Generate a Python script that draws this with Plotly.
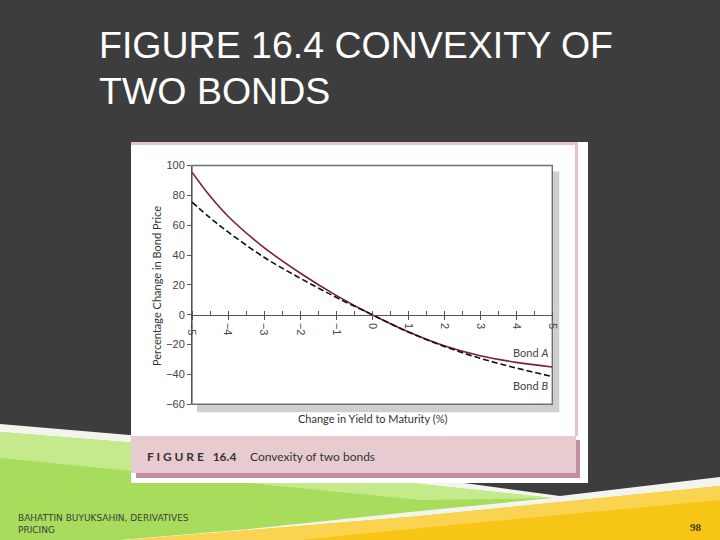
import plotly.graph_objects as go

# ---------------- data ----------------
yield_change = [-5, -4.5, -4, -3, -2, -1, 0, 1, 2, 3, 4, 5]
bond_a = [95.5, 79.5, 66.0, 45.0, 28.0, 13.0, 0.0, -11.4, -20.8, -27.5, -31.9, -35.0]
bond_b = [75.5, 65.0, 55.5, 38.5, 24.5, 11.7, 0.0, -11.5, -21.2, -29.2, -35.7, -41.4]
x_ticks = [-5, -4, -3, -2, -1, 0, 1, 2, 3, 4, 5]
y_ticks = [-60, -40, -20, 0, 20, 40, 60, 80, 100]
y_range = [-60, 100]
x_range = [-5, 5]

W, H = 720, 540


def px(x):
    return x / W


def py(y):
    return 1 - y / H


# plot-area pixel box
L, R, T, B = 192, 552.3, 165.5, 404.3
ydom = [py(B), py(T)]
x_axis_pos = ydom[0] + (0 - y_range[0]) / (y_range[1] - y_range[0]) * (ydom[1] - ydom[0])

fig = go.Figure()
fig.add_trace(go.Scatter(x=yield_change, y=bond_a, mode="lines", line_shape="spline",
                         line=dict(color="#7a2232", width=1.6, smoothing=1.0), name="Bond A",
                         xaxis="x", yaxis="y"))
fig.add_trace(go.Scatter(x=yield_change, y=bond_b, mode="lines", line_shape="spline",
                         line=dict(color="#111111", width=1.6, dash="6px,3px", smoothing=1.0),
                         name="Bond B", xaxis="x", yaxis="y"))

shapes = []


def rect(x0, y0, x1, y1, color, line=None):
    d = dict(type="rect", xref="paper", yref="paper", x0=px(x0), x1=px(x1),
             y0=py(y1), y1=py(y0), fillcolor=color, layer="below",
             line=dict(width=0) if line is None else line)
    shapes.append(d)


def poly(points, color):
    path = "M " + " L ".join(f"{px(a):.5f},{py(b):.5f}" for a, b in points) + " Z"
    shapes.append(dict(type="path", xref="paper", yref="paper", path=path,
                       fillcolor=color, line=dict(width=0), layer="below"))


# bottom decorations of the slide
poly([(0, 424), (200, 441), (420, 477), (560, 496), (720, 477), (720, 540), (0, 540)], "#f4f4ee")
poly([(0, 432), (200, 448), (420, 484), (552, 498), (420, 511), (250, 529), (120, 540), (0, 540)], "#a8dc5c")
poly([(0, 432), (200, 448), (420, 484), (552, 498), (420, 500), (200, 478), (0, 458)], "#c4ea8c")
poly([(128, 540), (420, 516), (720, 486), (720, 540)], "#f7c515")
poly([(128, 540), (420, 516), (720, 486), (720, 500), (420, 528), (300, 540)], "#fad451")

# chart image panel
rect(131, 142, 588, 483, "#ffffff")
rect(131, 142, 578, 145, "#e6c3ca")
rect(575, 142, 578, 436, "#e6c3ca")
# caption band with shadow
rect(136, 440, 580, 478, "#c48f9c")
rect(131, 436, 576, 473, "#e8cbd1")
# plot frame shadow
rect(L + 5, T + 6, R + 7, B + 8, "#cfcfcf")
rect(L, T, R, B, "#ffffff")
rect(L, T, R, B, "rgba(0,0,0,0)", line=dict(color="#707070", width=1.4))

ann = []


def text(x, y, s, size, color, family, xanchor="left", yanchor="middle", angle=0, xref="paper", yref="paper"):
    ann.append(dict(x=px(x) if xref == "paper" else x, y=py(y) if yref == "paper" else y,
                    xref=xref, yref=yref, text=s, showarrow=False,
                    xanchor=xanchor, yanchor=yanchor, textangle=angle,
                    font=dict(size=size, color=color, family=family)))


# slide title
text(97, 45, "FIGURE 16.4 CONVEXITY OF", 37.5, "#ffffff", "Liberation Sans")
text(97, 91, "TWO BONDS", 37.5, "#ffffff", "Liberation Sans")
# footer
text(16, 518, "BAHATTIN BUYUKSAHIN, DERIVATIVES", 9, "#3c3c3c", "DejaVu Sans")
text(16, 530, "PRICING", 9, "#3c3c3c", "DejaVu Sans")
text(704, 527, "<b>98</b>", 11, "#4a3a10", "Liberation Sans Narrow", xanchor="right")
# caption
text(145, 456, "<b>F I G U R E   16.4</b>", 12, "#333333", "Lato")
text(248, 456, "Convexity of two bonds", 12, "#333333", "Lato")
# axis titles
text(372, 418, "Change in Yield to Maturity (%)", 11, "#333333", "Lato", xanchor="center")
text(156, 286, "Percentage Change in Bond Price", 11, "#333333", "Lato", xanchor="center", angle=-90)
# series labels
text(4.93, -25.5, "Bond <i>A</i>", 11, "#444444", "Lato", xanchor="right", xref="x", yref="y")
text(4.93, -47.4, "Bond <i>B</i>", 11, "#444444", "Lato", xanchor="right", xref="x", yref="y")

tickfont = dict(size=11, color="#444444", family="Liberation Sans")
fig.update_layout(
    template="none",
    width=W, height=H,
    margin=dict(l=0, r=0, t=0, b=0, pad=0, autoexpand=False),
    paper_bgcolor="#3d3d3d",
    plot_bgcolor="rgba(0,0,0,0)",
    showlegend=False,
    shapes=shapes,
    annotations=ann,
    xaxis=dict(domain=[px(L), px(R)], range=x_range, anchor="free", position=x_axis_pos,
               automargin=False,
               tickvals=x_ticks, tickangle=90, ticks="outside", ticklen=4, tickcolor="#555555",
               showline=True, linecolor="#555555", linewidth=1, showgrid=False, zeroline=False,
               tickfont=tickfont, ticklabelstandoff=1,
               minor=dict(dtick=0.5, tick0=0, ticks="inside", ticklen=4, tickcolor="#555555")),
    xaxis2=dict(domain=[px(L), px(R)], range=x_range, anchor="free", position=x_axis_pos,
                automargin=False,
                overlaying="x", tickvals=x_ticks, ticks="inside", ticklen=4, tickcolor="#555555",
                showticklabels=False, showline=False, showgrid=False, zeroline=False),
    yaxis=dict(domain=ydom, range=y_range, tickvals=y_ticks, ticks="outside", ticklen=4,
               automargin=False,
               tickcolor="#555555", showline=True, linecolor="#555555", linewidth=1,
               showgrid=False, zeroline=False, tickfont=tickfont, anchor="x"),
)
# invisible trace to activate xaxis2
fig.add_trace(go.Scatter(x=[x_range[0]], y=[0], xaxis="x2", yaxis="y", mode="markers",
                         marker=dict(opacity=0), hoverinfo="skip", showlegend=False))

post = (
    "document.documentElement.style.margin='0';"
    "document.documentElement.style.overflow='hidden';"
    "document.body.style.margin='0';"
    "document.body.style.overflow='hidden';"
    "document.body.style.background='#3d3d3d';"
)
fig.write_html("out.html", config={"displayModeBar": False}, post_script=post)
